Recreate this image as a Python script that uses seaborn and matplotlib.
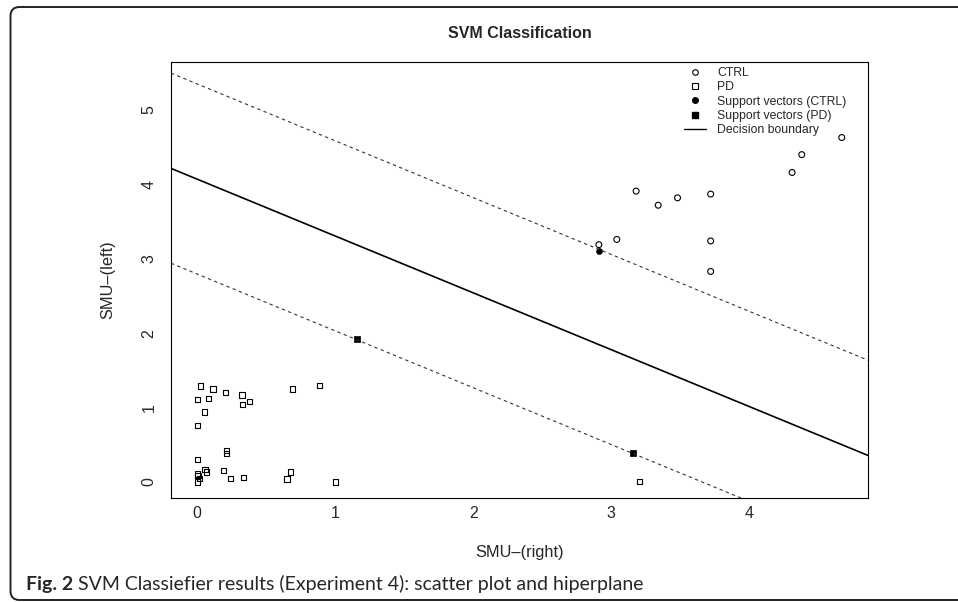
import matplotlib
matplotlib.use("Agg")
import matplotlib.pyplot as plt
import seaborn as sns
from matplotlib.patches import FancyBboxPatch
from matplotlib.lines import Line2D

# CTRL subjects (SMU right, SMU left)
ctrl_x = [4.67, 4.38, 4.31, 3.18, 3.34, 3.48, 3.72, 3.04, 2.91, 3.72, 3.72]
ctrl_y = [4.63, 4.40, 4.16, 3.91, 3.72, 3.82, 3.87, 3.26, 3.19, 3.24, 2.83]

# PD subjects
pd_x = [0.022, 0.114, 0.205, 0.324, 0.0, 0.08, 0.33, 0.38, 0.053, 0.0,
        0.69, 0.886, 0.21, 0.21, 0.0, 0.0, 0.005, 0.017, 0.0, 0.056,
        0.065, 0.193, 0.24, 0.336, 0.65, 0.676, 1.0, 3.205]
pd_y = [1.29, 1.25, 1.20, 1.17, 1.11, 1.12, 1.04, 1.08, 0.94, 0.76,
        1.25, 1.30, 0.42, 0.385, 0.30, 0.108, 0.09, 0.045, 0.0, 0.17,
        0.135, 0.15, 0.045, 0.058, 0.04, 0.134, 0.0, 0.01]

# support vectors
sv_ctrl_x = [2.91]
sv_ctrl_y = [3.11]
sv_pd_x = [1.157, 3.157]
sv_pd_y = [1.92, 0.39]

# hyperplane: y = intercept + slope * x
slope = -0.764
boundary_icpt = 4.07
margin_icpts = [5.35, 2.795]

x_lim = (-0.19, 4.86)
y_lim = (-0.215, 5.645)
x_ticks = [0, 1, 2, 3, 4]
y_ticks = [0, 1, 2, 3, 4, 5]

sns.set_style("white")
plt.rcParams["font.family"] = ["Liberation Sans", "DejaVu Sans"]

W, H = 958, 602
fig = plt.figure(figsize=(W / 100, H / 100), dpi=100)
ax = fig.add_axes([171 / W, 1 - 498 / H, (868 - 171) / W, (498 - 62) / H])

sns.scatterplot(x=ctrl_x, y=ctrl_y, marker="o", s=18, facecolors="none",
                edgecolor="black", linewidth=0.8, ax=ax, legend=False)
sns.scatterplot(x=pd_x, y=pd_y, marker="s", s=14, facecolors="none",
                edgecolor="black", linewidth=0.8, ax=ax, legend=False)
sns.scatterplot(x=sv_ctrl_x, y=sv_ctrl_y, marker="o", s=18, color="black",
                edgecolor="black", linewidth=0.5, ax=ax, legend=False)
sns.scatterplot(x=sv_pd_x, y=sv_pd_y, marker="s", s=16, color="black",
                edgecolor="black", linewidth=0.5, ax=ax, legend=False)
for c in ax.collections[:2]:
    c.set_facecolor("none")

ax.axline((0, boundary_icpt), slope=slope, color="black", lw=1.2)
for icpt in margin_icpts:
    ax.axline((0, icpt), slope=slope, color="#333333", lw=0.8,
              linestyle=(0, (3, 3)))

ax.set_xlim(*x_lim)
ax.set_ylim(*y_lim)
ax.set_xticks(x_ticks)
ax.set_yticks(y_ticks)
for s in ax.spines.values():
    s.set_color("black")
    s.set_linewidth(0.8)
ax.tick_params(axis="both", direction="out", length=5.5, width=0.8,
               labelsize=11.5, color="black")
ax.tick_params(axis="x", pad=0.5)
ax.tick_params(axis="y", pad=5)
for lab in ax.get_yticklabels():
    lab.set_rotation(90)
    lab.set_va("center")

ax.set_xlabel("SMU\u2013(right)", fontsize=11.8)
ax.set_ylabel("SMU\u2013(left)", fontsize=11.8)
ax.xaxis.set_label_coords(0.5, (498 - 553) / 436)
ax.yaxis.set_label_coords((108 - 171) / 697, 0.5)
ax.xaxis.label.set_va("center")
ax.yaxis.label.set_va("center")

fig.text((171 + 868) / 2 / W, 1 - 33 / H, "SVM Classification",
         ha="center", va="center", fontsize=11.5, fontweight="bold")

handles = [
    Line2D([], [], ls="none", marker="o", ms=4, mfc="none", mec="black", mew=0.8),
    Line2D([], [], ls="none", marker="s", ms=3.8, mfc="none", mec="black", mew=0.8),
    Line2D([], [], ls="none", marker="o", ms=4, mfc="black", mec="black"),
    Line2D([], [], ls="none", marker="s", ms=3.8, mfc="black", mec="black"),
    Line2D([], [], color="black", lw=1.0),
]
labels = ["CTRL", "PD", "Support vectors (CTRL)", "Support vectors (PD)",
          "Decision boundary"]
leg = ax.legend(handles, labels, loc="upper left",
                bbox_to_anchor=(684 / W, 1 - 67 / H),
                bbox_transform=fig.transFigure, borderaxespad=0,
                frameon=False, fontsize=8.8, handlelength=1.8,
                handletextpad=0.9, borderpad=0, labelspacing=0.19)

# outer caption frame
frame = FancyBboxPatch((0.105, 0.02), 10.0, 5.93,
                       boxstyle="round,pad=0,rounding_size=0.09",
                       transform=fig.dpi_scale_trans, fill=False,
                       edgecolor="#222222", lw=1.4)
fig.add_artist(frame)

cap = fig.text(26 / W, 1 - 590 / H, "Fig. 2", fontsize=14, fontweight="bold",
               family=["Lato", "DejaVu Sans"], va="baseline")
ax.annotate(" SVM Classiefier results (Experiment 4): scatter plot and hiperplane",
            xy=(1, 0), xycoords=cap, va="bottom", fontsize=14,
            family=["Lato", "DejaVu Sans"], annotation_clip=False)

fig.savefig("out.png", dpi=100)
